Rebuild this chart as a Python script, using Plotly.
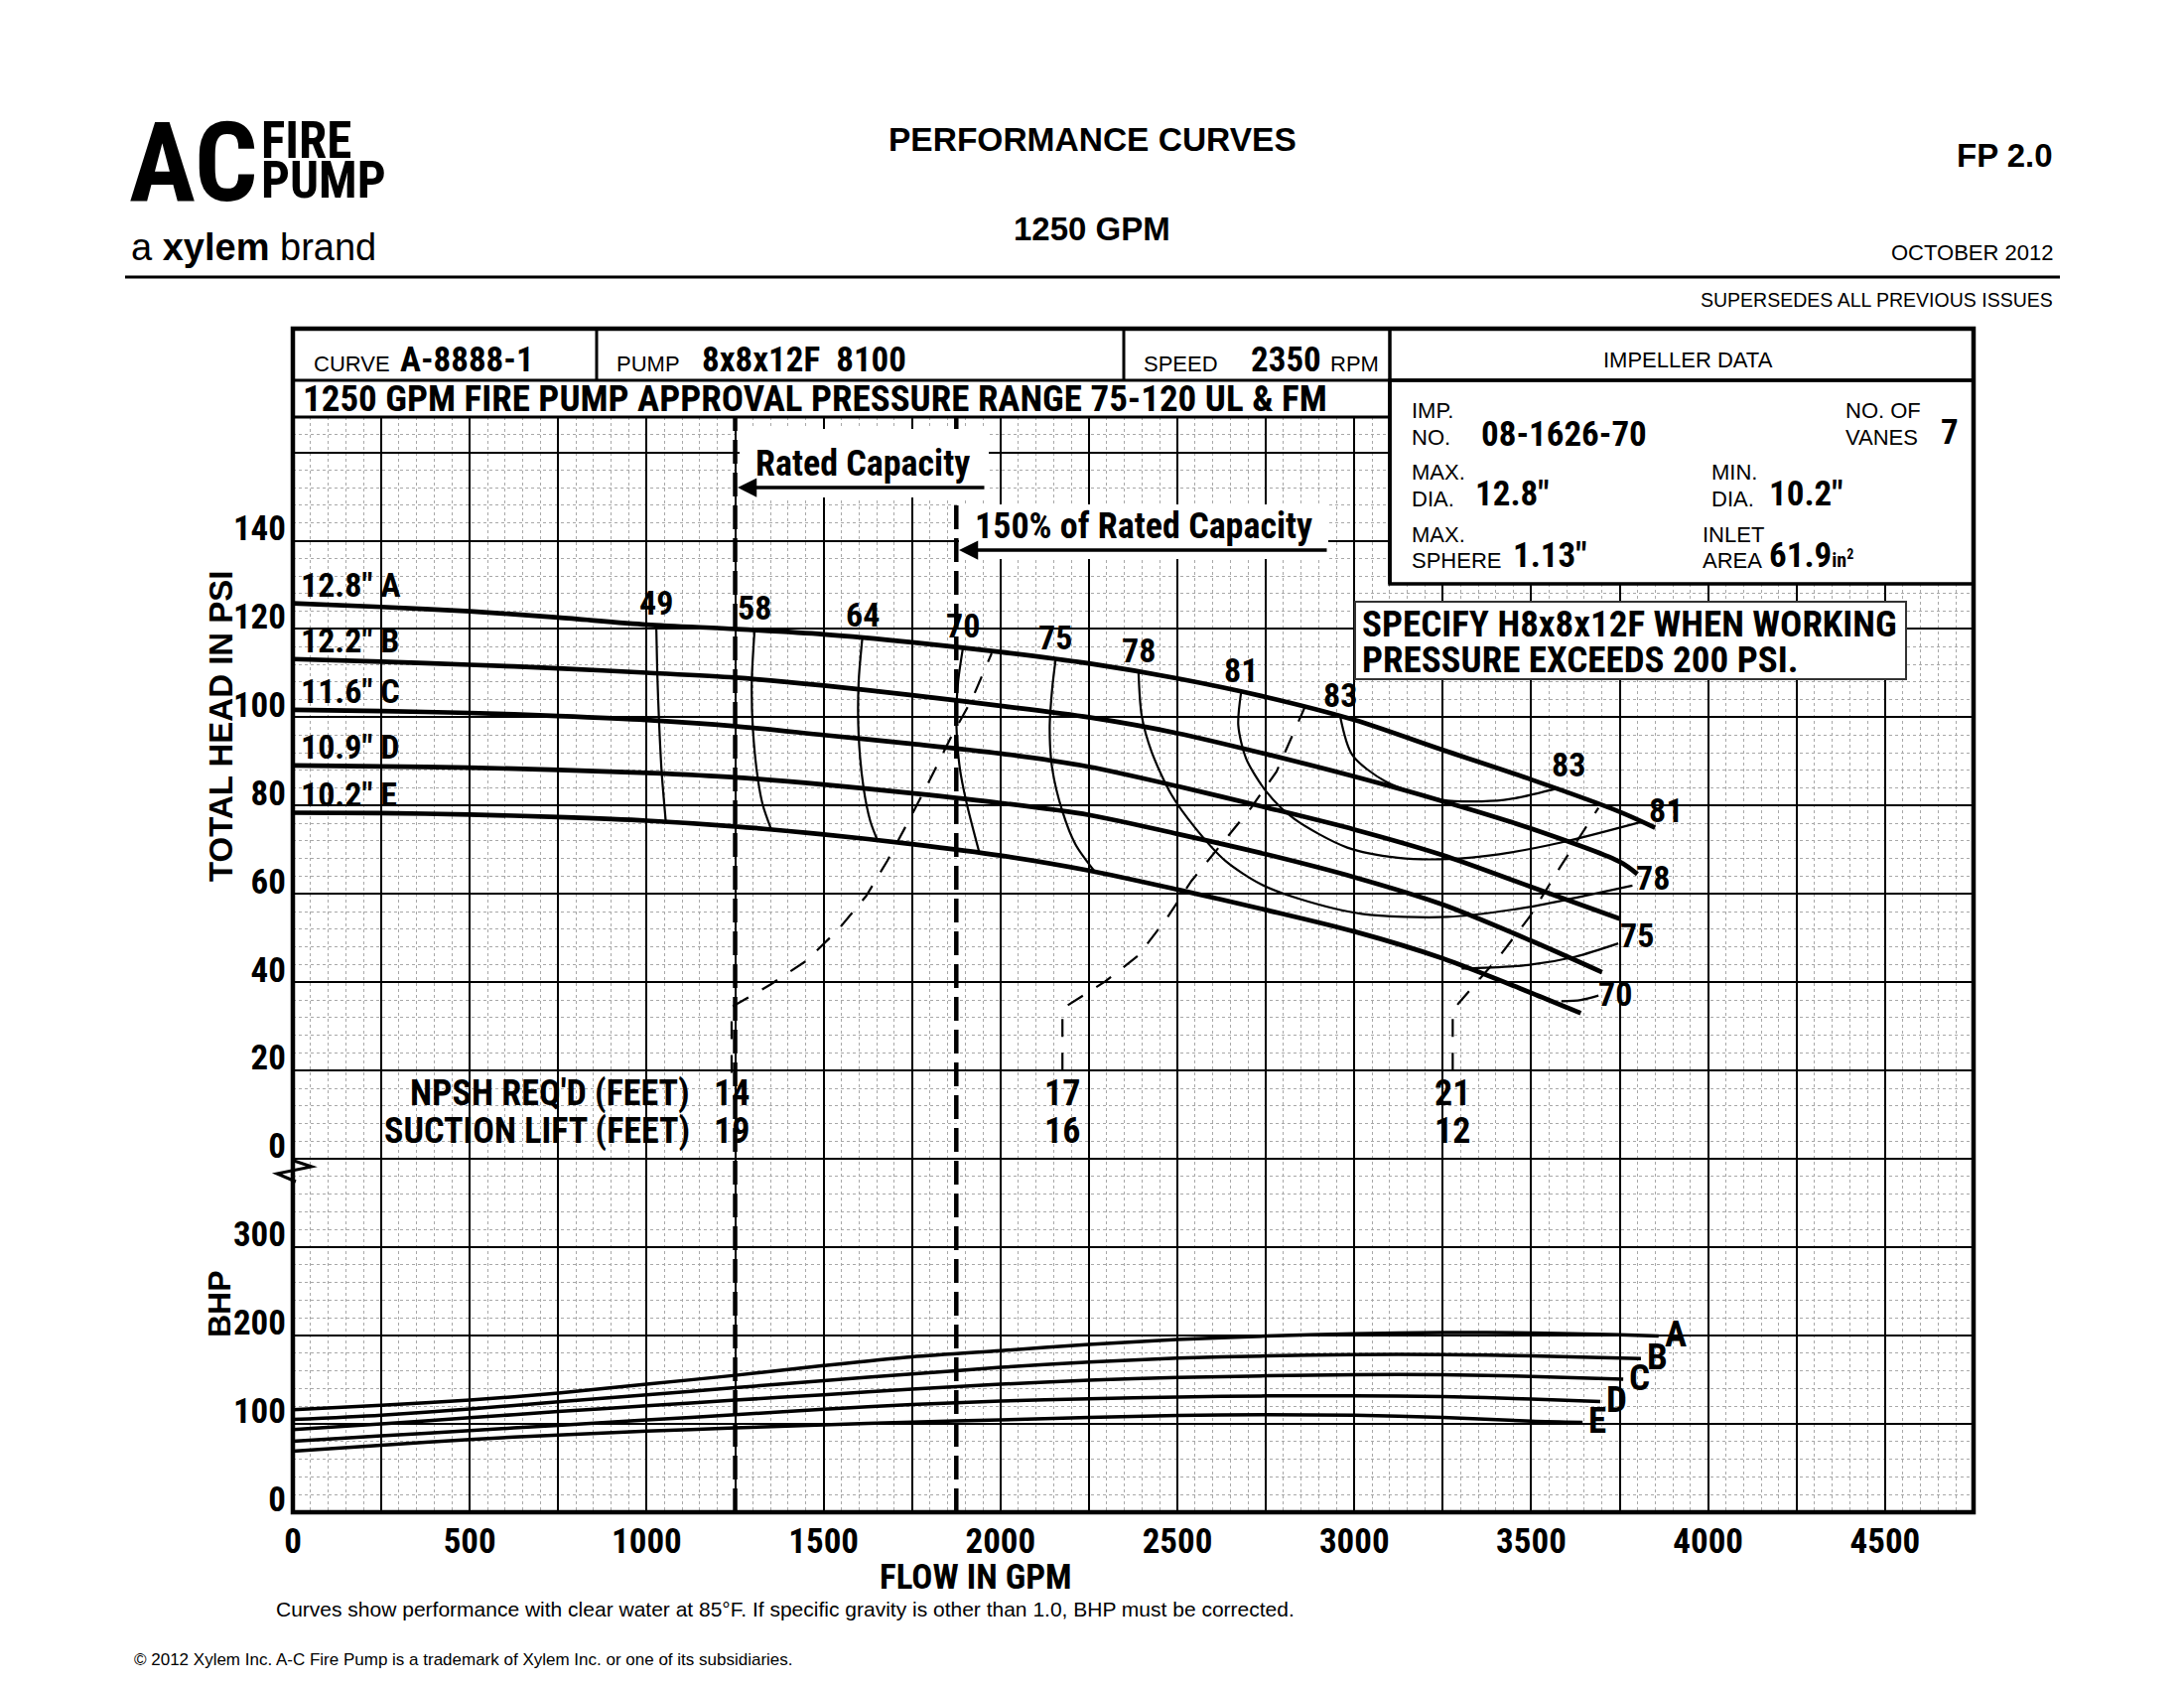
import plotly.graph_objects as go

W, H = 2200, 1700
X0, X1 = 295, 1988          # plot area, pixels
Y_TOP, Y_BOT = 420, 1523

NARROW = "Roboto Condensed, Open Sans Condensed, Liberation Sans, sans-serif"
SANS = "Liberation Sans, Arial, Helvetica, sans-serif"

# ---------------- data ----------------
flow_ticks = [0, 250, 500, 750, 1000, 1250, 1500, 1750, 2000, 2250, 2500, 2750,
              3000, 3250, 3500, 3750, 4000, 4250, 4500, 4750]
flow_ticklabels = ['0', '', '500', '', '1000', '', '1500', '', '2000', '', '2500', '',
                   '3000', '', '3500', '', '4000', '', '4500', '']
head_ticks = [-80, -60, -40, -20, 0, 20, 40, 60, 80, 100, 120, 140, 160]
head_ticklabels = ['', '', '', '', '0', '20', '40', '60', '80', '100', '120', '140', '']
bhp_ticks = [0, 100, 200, 300]

# head curves (GPM, PSI)
gpm_A = [0, 250, 500, 750, 1000, 1250, 1500, 1750, 2000, 2250, 2500, 2750, 3000, 3250, 3500, 3750, 3850]
psi_A = [125.8, 125.0, 124.0, 122.6, 121.0, 120.0, 118.8, 117.0, 114.8, 112.2, 108.8, 104.6, 99.4, 92.6, 85.9, 78.6, 75.0]
gpm_B = [0, 250, 500, 750, 1000, 1250, 1500, 1750, 2000, 2250, 2500, 2750, 3000, 3250, 3500, 3750, 3800]
psi_B = [113.2, 112.6, 111.9, 111.1, 110.1, 109.0, 107.2, 105.0, 102.6, 100.0, 96.4, 91.7, 86.6, 81.0, 74.8, 67.3, 64.5]
gpm_C = [0, 250, 500, 750, 1000, 1250, 1500, 1750, 2000, 2250, 2500, 2750, 3000, 3250, 3500, 3750]
psi_C = [101.7, 101.4, 101.0, 100.3, 99.4, 98.0, 96.0, 94.0, 91.8, 88.8, 84.4, 79.6, 74.6, 68.8, 61.6, 54.4]
gpm_D = [0, 250, 500, 750, 1000, 1250, 1500, 1750, 2000, 2250, 2500, 2750, 3000, 3250, 3500, 3700]
psi_D = [89.1, 88.9, 88.6, 88.1, 87.4, 86.4, 84.8, 82.8, 80.6, 77.9, 73.6, 69.0, 63.8, 57.6, 49.4, 42.3]
gpm_E = [0, 250, 500, 750, 1000, 1250, 1500, 1750, 2000, 2250, 2500, 2750, 3000, 3250, 3500, 3640]
psi_E = [78.4, 78.3, 78.0, 77.4, 76.6, 75.3, 73.5, 71.3, 68.7, 65.3, 61.0, 56.4, 51.5, 45.4, 37.6, 33.0]
diameters = ['12.8" A', '12.2" B', '11.6" C', '10.9" D', '10.2" E']

# efficiency contours (%)
eff_49_gpm = [1027, 1030, 1035, 1042, 1054]
eff_49_psi = [121.0, 110.0, 99.0, 88.0, 76.4]
eff_58_gpm = [1305, 1297, 1300, 1314, 1328, 1352]
eff_58_psi = [119.9, 107.9, 97.5, 86.2, 80.2, 74.6]
eff_64_gpm = [1610, 1599, 1599, 1613, 1632, 1653]
eff_64_psi = [118.4, 107.9, 96.0, 84.0, 76.5, 72.0]
eff_70a_gpm = [1894, 1880, 1875, 1885, 1903, 1940]
eff_70a_psi = [115.8, 107.9, 98.9, 88.5, 81.0, 69.4]
eff_75a_gpm = [2156, 2146, 2139, 2146, 2175, 2212, 2268]
eff_75a_psi = [113.2, 106.4, 97.5, 88.5, 78.7, 71.2, 64.9]
eff_78_gpm = [2390, 2399, 2427, 2483, 2551, 2637, 2736, 2840, 3021, 3263, 3491, 3652, 3786]
eff_78_psi = [110.2, 100.4, 92.2, 82.5, 74.9, 67.4, 62.2, 59.0, 55.5, 54.8, 57.0, 59.6, 61.9]
eff_81_gpm = [2680, 2672, 2694, 2751, 2830, 2980, 3123, 3266, 3409, 3581, 3810]
eff_81_psi = [105.7, 98.2, 90.7, 83.2, 77.0, 70.5, 68.2, 67.9, 69.0, 71.6, 76.3]
eff_83_gpm = [2960, 2994, 3088, 3249, 3423, 3577]
eff_83_psi = [100.2, 91.5, 85.5, 81.3, 81.3, 84.0]
eff_75b_gpm = [3303, 3491, 3625, 3746]
eff_75b_psi = [43.1, 43.9, 45.8, 48.8]
eff_70b_gpm = [3585, 3640, 3690]
eff_70b_psi = [35.7, 36.0, 37.0]

# NPSH required (dashed)
npsh_1_gpm = [1240, 1240, 1253, 1350, 1450, 1540, 1620, 1680, 1740, 1800, 1860, 1920, 1975]
npsh_1_psi = [19.5, 34.5, 35.0, 39.5, 44.8, 51.8, 59.5, 67.5, 76.5, 85.8, 95.5, 104.2, 114.5]
npsh_2_gpm = [2175, 2175, 2190, 2296, 2390, 2469, 2540, 2608, 2708, 2780, 2820, 2860]
npsh_2_psi = [20.0, 33.5, 34.8, 40.2, 46.1, 54.4, 63.0, 69.7, 79.5, 87.7, 95.0, 102.3]
npsh_3_gpm = [3278, 3278, 3295, 3409, 3495, 3581, 3690]
npsh_3_psi = [20.0, 33.5, 35.3, 45.8, 54.8, 66.0, 79.5]
npsh_flow = [1240, 2175, 3278]
npsh_req = ['14', '17', '21']
suction_lift = ['19', '16', '12']

rated_flow = [1250, 1875]

# brake horsepower
bhp_A_gpm = [0, 250, 500, 750, 1000, 1250, 1500, 1750, 2000, 2250, 2500, 2750, 3000, 3250, 3500, 3750, 3860]
bhp_A = [116, 121, 127, 135, 145, 155, 166, 176, 183, 190, 195.5, 199.5, 202, 203.5, 203, 201, 199.5]
bhp_B_gpm = [0, 250, 500, 750, 1000, 1250, 1500, 1750, 2000, 2250, 2500, 2750, 3000, 3250, 3500, 3810]
bhp_B = [105, 110, 117, 125, 133, 141, 149, 156.5, 164, 170, 174.5, 177, 178.5, 178.5, 177, 174]
bhp_C_gpm = [0, 250, 500, 750, 1000, 1250, 1500, 1750, 2000, 2250, 2500, 2750, 3000, 3250, 3500, 3760]
bhp_C = [93.6, 100, 107, 114, 120.5, 127, 133, 139.5, 145, 149.5, 152.5, 154.5, 155.8, 155.6, 153.8, 150.6]
bhp_D_gpm = [0, 250, 500, 750, 1000, 1250, 1500, 1750, 2000, 2250, 2500, 2750, 3000, 3250, 3500, 3695]
bhp_D = [80.5, 86.5, 92.5, 98.5, 104.5, 110.4, 116.5, 122, 125.8, 128.5, 130.5, 131.7, 131.8, 131, 128.2, 125.4]
bhp_E_gpm = [0, 250, 500, 750, 1000, 1250, 1500, 1750, 2000, 2250, 2500, 2750, 3000, 3250, 3500, 3645]
bhp_E = [69.2, 76, 82.4, 87.5, 91.8, 95.5, 99, 102, 104.6, 107.3, 109.5, 110.4, 109.8, 107.3, 103.2, 101.8]
bhp_names = ['A', 'B', 'C', 'D', 'E']


# paper coordinates in plotly span the plot area, so map page pixels onto it
def px(x):
    return (x - X0) / (X1 - X0)


def py(y):
    return (Y_BOT - y) / (Y_BOT - Y_TOP)


def line(x, y, width, yaxis='y', dash='solid', shape='spline'):
    return go.Scatter(x=x, y=y, mode='lines', yaxis=yaxis, hoverinfo='skip',
                      line=dict(color='black', width=width, dash=dash, shape=shape, smoothing=0.8))


fig = go.Figure()
annotations = []
shapes = []


def note(text, x, y, size, family=NARROW, bold=True, xanchor='center', yanchor='middle',
         xref='paper', yref='paper', **kw):
    annotations.append(dict(text=text, x=x, y=y, xref=xref, yref=yref, showarrow=False,
                            xanchor=xanchor, yanchor=yanchor,
                            font=dict(family=family, size=size, color='black',
                                      weight='bold' if bold else 'normal'), **kw))


def rect(x0, y0, x1, y1, width=0, fill=None, color='black'):
    shapes.append(dict(type='rect', xref='paper', yref='paper', x0=px(x0), x1=px(x1),
                       y0=py(y0), y1=py(y1), layer='above', fillcolor=fill,
                       line=dict(color=color, width=width)))


def seg(x0, y0, x1, y1, width=3):
    shapes.append(dict(type='line', xref='paper', yref='paper', x0=px(x0), x1=px(x1),
                       y0=py(y0), y1=py(y1), layer='above', line=dict(color='black', width=width)))


# ---------------- traces ----------------
for x, y in [(gpm_A, psi_A), (gpm_B, psi_B), (gpm_C, psi_C), (gpm_D, psi_D), (gpm_E, psi_E)]:
    fig.add_trace(line(x, y, 4.7))

eff_top = [('49', eff_49_gpm, eff_49_psi), ('58', eff_58_gpm, eff_58_psi),
           ('64', eff_64_gpm, eff_64_psi), ('70', eff_70a_gpm, eff_70a_psi),
           ('75', eff_75a_gpm, eff_75a_psi), ('78', eff_78_gpm, eff_78_psi),
           ('81', eff_81_gpm, eff_81_psi), ('83', eff_83_gpm, eff_83_psi)]
eff_end = [('83', eff_83_gpm, eff_83_psi, 'bottom', 0, 0), ('81', eff_81_gpm, eff_81_psi, 'middle', 12, 6),
           ('78', eff_78_gpm, eff_78_psi, 'middle', 8, 2), ('75', eff_75b_gpm, eff_75b_psi, 'middle', 8, 0),
           ('70', eff_70b_gpm, eff_70b_psi, 'middle', 2, -2)]
for name, x, y in eff_top:
    fig.add_trace(line(x, y, 2.2))
    note(name, x[0], y[0], 34, xref='x', yref='y', yanchor='bottom', yshift=0)
for name, x, y, ya, ys, xs in eff_end:
    if name in ('75', '70'):
        fig.add_trace(line(x, y, 2.2))
    if ya == 'bottom':
        note(name, x[-1], y[-1], 34, xref='x', yref='y', yanchor='bottom', xshift=10, yshift=2)
    else:
        note(name, x[-1], y[-1], 34, xref='x', yref='y', xanchor='left', yshift=ys, xshift=xs)

for x, y in [(npsh_1_gpm, npsh_1_psi), (npsh_2_gpm, npsh_2_psi), (npsh_3_gpm, npsh_3_psi)]:
    fig.add_trace(line(x, y, 2.2, dash='18px,16px', shape='linear'))

for q in rated_flow:
    fig.add_trace(line([q, q], [-80, 168], 4.5, dash='24px,9px', shape='linear'))

for x, y in [(bhp_A_gpm, bhp_A), (bhp_B_gpm, bhp_B), (bhp_C_gpm, bhp_C), (bhp_D_gpm, bhp_D), (bhp_E_gpm, bhp_E)]:
    fig.add_trace(line(x, y, 3.5, yaxis='y2'))
for name, x, y in zip(bhp_names, [bhp_A_gpm, bhp_B_gpm, bhp_C_gpm, bhp_D_gpm, bhp_E_gpm],
                      [bhp_A, bhp_B, bhp_C, bhp_D, bhp_E]):
    note(name, x[-1], y[-1], 37, xref='x', yref='y2', xanchor='left', xshift=4, yshift=2)

for name, x, y in zip(diameters, [gpm_A, gpm_B, gpm_C, gpm_D, gpm_E], [psi_A, psi_B, psi_C, psi_D, psi_E]):
    note(name, x[0], y[0], 34, xref='x', yref='y', xanchor='left', yanchor='bottom', xshift=6, yshift=-3)

# NPSH table
note("NPSH REQ'D (FEET)", px(697), py(1101), 36, xanchor='right')
note("SUCTION LIFT (FEET)", px(697), py(1139), 36, xanchor='right')
for q, a, b in zip(npsh_flow, npsh_req, suction_lift):
    note(a, q, py(1101), 36, xref='x')
    note(b, q, py(1139), 36, xref='x')

# ---------------- boxes and frame ----------------
rect(745, 432, 996, 501, fill='white')
rect(966, 508, 1338, 563, fill='white')
rect(1400, 383, 1988, 588, width=3.5, fill='white')
rect(1365, 606, 1920, 684, width=2, fill='white', color='#333')
rect(X0, 331, X1, Y_BOT, width=4.5)
seg(X0, 383, X1, 383, 3)
seg(X0, 420, 1400, 420, 3)
seg(601, 331, 601, 383, 3)
seg(1132, 331, 1132, 383, 3)
seg(1400, 331, 1400, 588, 3.5)
seg(126, 279, 2075, 279, 3)
shapes.append(dict(type='path', xref='paper', yref='paper', layer='above',
                   path='M {},{} L {},{} L {},{} L {},{}'.format(px(296), py(1169), px(314), py(1175),
                                                               px(279), py(1182), px(298), py(1190)),
                   line=dict(color='black', width=3)))

# arrows
annotations.append(dict(x=px(743), y=py(491), xref='paper', yref='paper', text='', showarrow=True,
                        ax=250, ay=0, axref='pixel', ayref='pixel', arrowhead=2, arrowsize=1.1,
                        arrowwidth=3.5, arrowcolor='black'))
annotations.append(dict(x=px(966), y=py(554), xref='paper', yref='paper', text='', showarrow=True,
                        ax=372, ay=0, axref='pixel', ayref='pixel', arrowhead=2, arrowsize=1.1,
                        arrowwidth=3.5, arrowcolor='black'))
note('Rated Capacity', px(759), py(467), 36, xanchor='left')
note('150% of Rated Capacity', px(980), py(530), 36, xanchor='left')
note('SPECIFY H8x8x12F WHEN WORKING', px(1370), py(628), 37, xanchor='left')
note('PRESSURE EXCEEDS 200 PSI.', px(1370), py(664), 37, xanchor='left')

# header row of the chart frame
note('CURVE', px(314), py(366), 22, family=SANS, bold=False, xanchor='left')
note('A-8888-1', px(401), py(362), 35, xanchor='left')
note('PUMP', px(619), py(366), 22, family=SANS, bold=False, xanchor='left')
note('8x8x12F\u00a0\u00a08100', px(705), py(362), 35, xanchor='left')
note('SPEED', px(1150), py(366), 22, family=SANS, bold=False, xanchor='left')
note('2350', px(1258), py(362), 35, xanchor='left')
note('RPM', px(1338), py(366), 22, family=SANS, bold=False, xanchor='left')
note('IMPELLER DATA', px(1700), py(362), 22, family=SANS, bold=False)
note('1250 GPM FIRE PUMP APPROVAL PRESSURE RANGE 75-120 UL &amp; FM', px(303), py(402), 37,
     xanchor='left')

# impeller data
for txt, x, y in [('IMP.', 1420, 414), ('NO.', 1420, 440), ('NO. OF', 1857, 414), ('VANES', 1857, 440),
                  ('MAX.', 1420, 475), ('DIA.', 1420, 502), ('MIN.', 1722, 475), ('DIA.', 1722, 502),
                  ('MAX.', 1420, 538), ('SPHERE', 1420, 564), ('INLET', 1713, 538), ('AREA', 1713, 564)]:
    note(txt, px(x), py(y), 22, family=SANS, bold=False, xanchor='left')
for txt, x, y in [('08-1626-70', 1490, 437), ('7', 1953, 435), ('12.8"', 1484, 497), ('10.2"', 1780, 497),
                  ('1.13"', 1522, 559), ('61.9<span style="font-size:20px">in<sup>2</sup></span>', 1780, 559)]:
    note(txt, px(x), py(y), 35, xanchor='left')

# page header and footer
note('AC', px(128), py(163), 112, xanchor='left')
note('FIRE', px(261), py(141), 51, xanchor='left')
note('PUMP', px(261), py(181), 51, xanchor='left')
note('a <b>xylem</b> brand', px(130), py(249), 38, family=SANS, bold=False, xanchor='left')
note('PERFORMANCE CURVES', px(1100), py(140), 33.5, family=SANS)
note('1250 GPM', px(1100), py(230), 33, family=SANS)
note('FP 2.0', px(2070), py(156), 33, family=SANS, xanchor='right')
note('OCTOBER 2012', px(2070), py(254), 22, family=SANS, bold=False, xanchor='right')
note('SUPERSEDES ALL PREVIOUS ISSUES', px(2070), py(302), 19.5, family=SANS, bold=False, xanchor='right')
note('FLOW IN GPM', px(983), py(1588), 35)
note('Curves show performance with clear water at 85°F. If specific gravity is other than 1.0, '
     'BHP must be corrected.', px(276), py(1620), 21, family=SANS, bold=False, xanchor='left')
note('© 2012 Xylem Inc. A-C Fire Pump is a trademark of Xylem Inc. or one of its subsidiaries.',
     px(133), py(1671), 17, family=SANS, bold=False, xanchor='left')
note('TOTAL HEAD IN PSI', px(222), py(731), 33, family=SANS, textangle=-90)
note('BHP', px(221), py(1313), 32, family=SANS, textangle=-90)

tickfont = dict(family=NARROW, size=35, color='black', weight='bold')
fig.update_layout(
    width=W, height=H, template='none', showlegend=False,
    paper_bgcolor='white', plot_bgcolor='white',
    margin=dict(l=X0, r=W - X1, t=Y_TOP, b=H - Y_BOT, pad=0),
    xaxis=dict(range=[0, 4750], tickmode='array', tickvals=flow_ticks, ticktext=flow_ticklabels,
               showgrid=True, gridcolor='black', gridwidth=1.6, zeroline=False, showline=False,
               ticks='', tickfont=tickfont, ticklabelstandoff=5, automargin=False,
               minor=dict(tick0=0, dtick=50, showgrid=True, gridcolor='#a8a8a8', gridwidth=1,
                          griddash='dot')),
    yaxis=dict(range=[-80, 168], tickmode='array', tickvals=head_ticks, ticktext=head_ticklabels,
               showgrid=True, gridcolor='black', gridwidth=1.6, zeroline=False, showline=False,
               ticks='', tickfont=tickfont, ticklabelstandoff=6, ticklabelshift=-13, automargin=False,
               minor=dict(tick0=0, dtick=4, showgrid=True, gridcolor='#a8a8a8', gridwidth=1,
                          griddash='dot')),
    yaxis2=dict(range=[0, 1240], overlaying='y', side='left', anchor='x', tickmode='array',
                tickvals=bhp_ticks, showgrid=False, zeroline=False, showline=False, ticks='',
                tickfont=tickfont, ticklabelstandoff=6, ticklabelshift=-13, automargin=False),
    annotations=annotations, shapes=shapes,
)

fig.write_html("out.html", config={'displayModeBar': False},
               post_script="document.body.style.margin = '0px';")
